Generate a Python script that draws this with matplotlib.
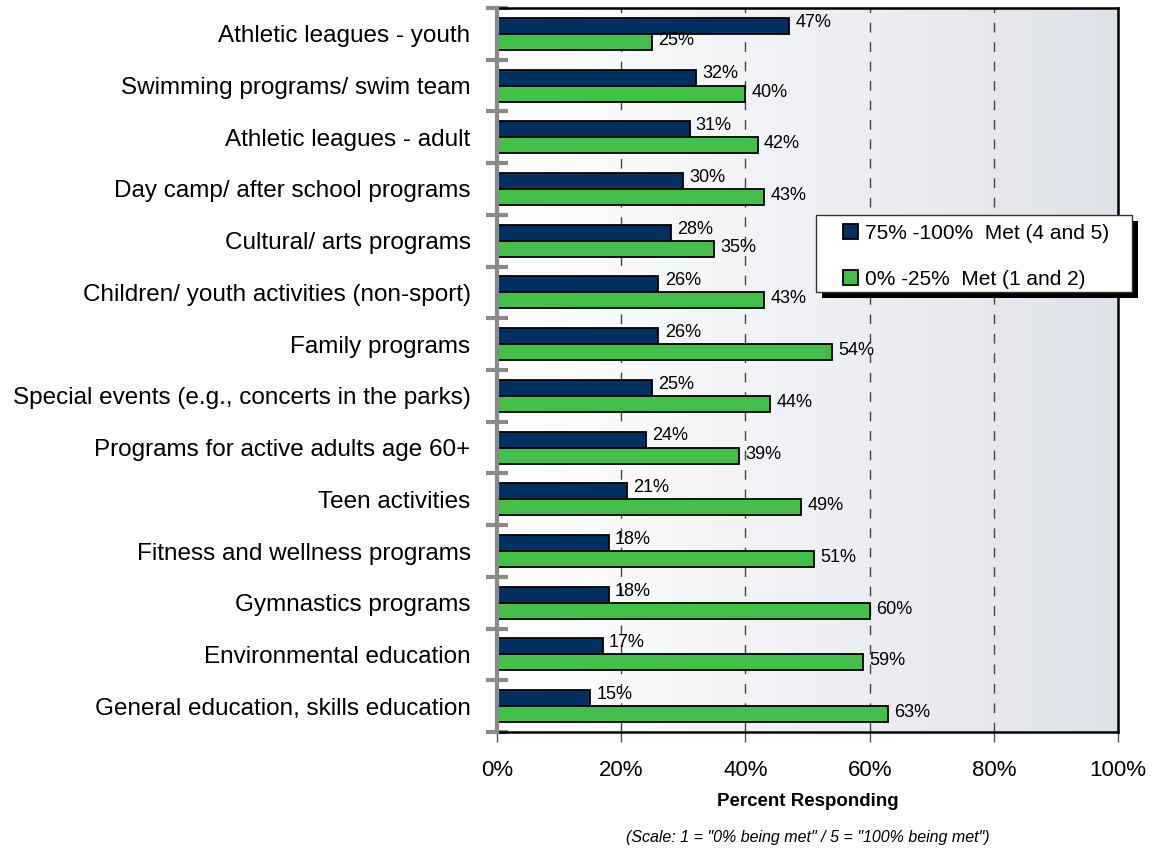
import matplotlib.pyplot as plt
from matplotlib.patches import Rectangle
import numpy as np

plt.rcParams['font.family'] = ['Liberation Sans', 'DejaVu Sans']

categories = [
    "Athletic leagues - youth",
    "Swimming programs/ swim team",
    "Athletic leagues - adult",
    "Day camp/ after school programs",
    "Cultural/ arts programs",
    "Children/ youth activities (non-sport)",
    "Family programs",
    "Special events (e.g., concerts in the parks)",
    "Programs for active adults age 60+",
    "Teen activities",
    "Fitness and wellness programs",
    "Gymnastics programs",
    "Environmental education",
    "General education, skills education",
]
met_high = [47, 32, 31, 30, 28, 26, 26, 25, 24, 21, 18, 18, 17, 15]
met_low = [25, 40, 42, 43, 35, 43, 54, 44, 39, 49, 51, 60, 59, 63]
series_names = ["75% -100%  Met (4 and 5)", "0% -25%  Met (1 and 2)"]
navy = "#00305f"
green = "#44c04a"

fig = plt.figure(figsize=(11.53, 8.5), dpi=100)
ax = fig.add_axes([0.431, 0.1388, 0.5388, 0.8518])

n = len(categories)
y = np.arange(n)
h = 0.31

# gradient background
grad = np.linspace(0, 1, 256).reshape(1, -1)
c0 = np.array([1.0, 1.0, 1.0])
c1 = np.array([0.875, 0.886, 0.91])
img = c0 + (c1 - c0) * grad[..., None]
ax.imshow(img, extent=[0, 100, n - 0.5, -0.5], aspect="auto", zorder=0)

b1 = ax.barh(y - h / 2, met_high, height=h, color=navy, edgecolor="black", linewidth=1.3, zorder=3)
b2 = ax.barh(y + h / 2, met_low, height=h, color=green, edgecolor="black", linewidth=1.3, zorder=3)

for i in range(n):
    ax.text(met_high[i] + 1.0, y[i] - h / 2 - 0.07, f"{met_high[i]}%", va="center", ha="left",
            fontsize=13, zorder=4)
    ax.text(met_low[i] + 1.0, y[i] + h / 2 - 0.03, f"{met_low[i]}%", va="center", ha="left",
            fontsize=13, zorder=4)

for gx in [20, 40, 60, 80]:
    ax.axvline(gx, color="#444444", linewidth=1, linestyle=(0, (7, 7)), zorder=1)

ax.set_xlim(0, 100)
ax.set_ylim(n - 0.5, -0.5)
ax.set_xticks([0, 20, 40, 60, 80, 100])
ax.set_xticklabels(["0%", "20%", "40%", "60%", "80%", "100%"], fontsize=16)
ax.tick_params(axis="x", direction="out", length=7, width=1, color="#555555", pad=13)

ax.set_yticks(y)
ax.set_yticklabels(categories, fontsize=17.5)
ax.tick_params(axis="y", which="major", length=0, pad=19)
ax.set_yticks(np.arange(n + 1) - 0.5, minor=True)
ax.tick_params(axis="y", which="minor", direction="inout", length=16, width=3, color="#8a8a8a")

for side in ["top", "right", "bottom"]:
    ax.spines[side].set_color("black")
    ax.spines[side].set_linewidth(1.8)
ax.spines["left"].set_color("#8a8a8a")
ax.spines["left"].set_linewidth(3)
ax.spines["left"].set_zorder(5)

ax.set_xlabel("Percent Responding", fontsize=13.5, fontweight="bold", labelpad=9)
fig.text(0.5388 / 2 + 0.431, 0.006, '(Scale: 1 = "0% being met" / 5 = "100% being met")',
         ha="center", va="bottom", fontsize=11.5, style="italic")

# legend box with a hard black shadow
box_x0, box_y0, box_w, box_h = 0.5137, 0.6077, 0.5088, 0.1063
dx, dy = 6 / 621, 6 / 724
ax.add_patch(Rectangle((box_x0 + dx, box_y0 - dy), box_w, box_h, transform=ax.transAxes,
                       facecolor="black", edgecolor="none", zorder=8, clip_on=False))
ax.add_patch(Rectangle((box_x0, box_y0), box_w, box_h, transform=ax.transAxes,
                       facecolor="white", edgecolor="#333333", linewidth=1, zorder=9, clip_on=False))
leg = ax.legend([b1, b2], series_names, loc="upper left", bbox_to_anchor=(0.557, 0.702),
                borderaxespad=0, borderpad=0, fontsize=15, frameon=False,
                handlelength=0.7, handleheight=0.7, handletextpad=0.35, labelspacing=1.3)
leg.set_zorder(10)

fig.savefig("out.png", dpi=100)
